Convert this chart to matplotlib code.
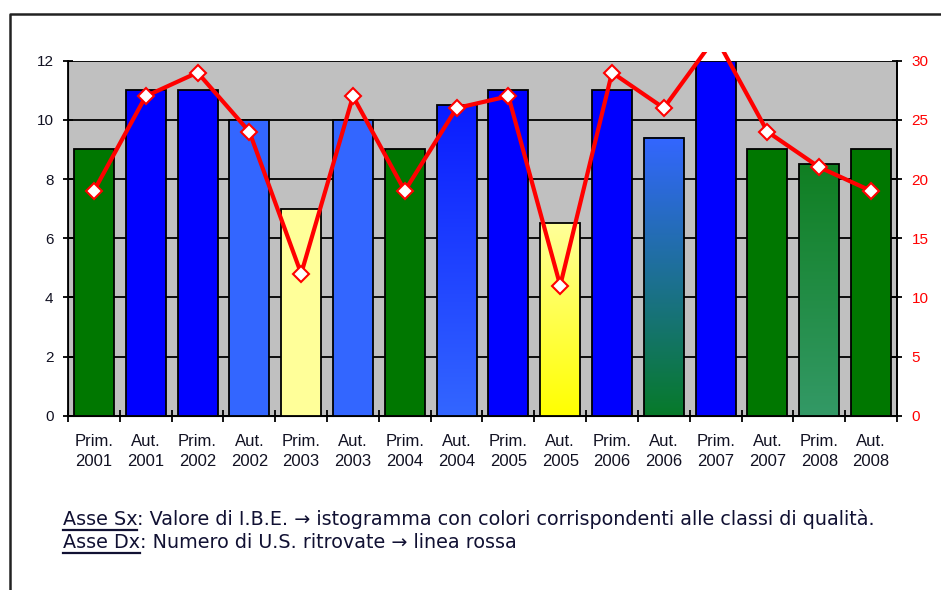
import numpy as np
import matplotlib
matplotlib.use("Agg")
import matplotlib.pyplot as plt
from matplotlib.colors import to_rgb
from matplotlib.patches import Rectangle
from matplotlib.lines import Line2D

# Data
seasons = ["Prim.", "Aut.", "Prim.", "Aut.", "Prim.", "Aut.", "Prim.", "Aut.",
           "Prim.", "Aut.", "Prim.", "Aut.", "Prim.", "Aut.", "Prim.", "Aut."]
years = ["2001", "2001", "2002", "2002", "2003", "2003", "2004", "2004",
         "2005", "2005", "2006", "2006", "2007", "2007", "2008", "2008"]
ibe_values = [9, 11, 11, 10, 7, 10, 9, 10.5, 11, 6.5, 11, 9.4, 12, 9, 8.5, 9]
us_counts = [19, 27, 29, 24, 12, 27, 19, 26, 27, 11, 29, 26, 32, 24, 21, 19]

# bar fill: (top colour, bottom colour) - quality class colours
bar_colors = [
    ("#007700", "#007700"),
    ("#0000ff", "#0000ff"),
    ("#0000ff", "#0000ff"),
    ("#3366ff", "#3366ff"),
    ("#ffff99", "#ffff99"),
    ("#3366ff", "#3366ff"),
    ("#007700", "#007700"),
    ("#0a1cff", "#3366ff"),
    ("#0000ff", "#0000ff"),
    ("#ffff99", "#ffff00"),
    ("#0000ff", "#0000ff"),
    ("#3366ff", "#077a2a"),
    ("#0000ff", "#0000ff"),
    ("#007700", "#007700"),
    ("#107f22", "#339966"),
    ("#007700", "#007700"),
]

tick_labels = [s + "\n" + y for s, y in zip(seasons, years)]
x = np.arange(len(ibe_values))
bar_w = 0.77

fig = plt.figure(figsize=(9.41, 5.90), dpi=100)
ax = fig.add_axes([0.0723, 0.2954, 0.8809, 0.6017])
ax.set_facecolor("#c0c0c0")

# bars (gradient ones drawn as images, then outlined)
for xi, h, (ctop, cbot) in zip(x, ibe_values, bar_colors):
    if ctop == cbot:
        ax.bar(xi, h, width=bar_w, color=ctop, edgecolor="black", linewidth=1.3, zorder=3)
    else:
        t = np.linspace(0, 1, 100)[:, None]
        grad = (1 - t) * np.array(to_rgb(ctop)) + t * np.array(to_rgb(cbot))
        ax.imshow(grad[:, None, :], extent=(xi - bar_w / 2, xi + bar_w / 2, 0, h),
                  aspect="auto", zorder=3, interpolation="bilinear")
        ax.bar(xi, h, width=bar_w, facecolor="none", edgecolor="black", linewidth=1.3, zorder=4)

ax.set_xlim(-0.5, len(x) - 0.5)
ax.set_ylim(0, 12)
ax.set_yticks(range(0, 13, 2))
ax.yaxis.grid(True, color="black", linewidth=1.3)
ax.set_axisbelow(True)

ax.set_xticks(np.arange(-0.5, len(x), 1))
ax.set_xticklabels([])
ax.set_xticks(x, minor=True)
ax.set_xticklabels(tick_labels, minor=True, fontsize=12, family="Liberation Sans",
                   color="#111122", linespacing=1.45)
ax.tick_params(axis="x", which="major", direction="inout", length=9, width=1.3)
ax.tick_params(axis="x", which="minor", length=0, pad=13)
ax.tick_params(axis="y", direction="inout", length=7, width=1.3, labelsize=11,
               labelcolor="#111122", pad=7)
for lbl in ax.get_yticklabels():
    lbl.set_family("Liberation Sans")

ax.spines["top"].set_visible(False)
for side in ["left", "bottom", "right"]:
    ax.spines[side].set_linewidth(1.3)

# right axis: red line
ax2 = ax.twinx()
ax2.set_ylim(0, 30)
ax2.set_yticks(range(0, 31, 5))
ax2.tick_params(axis="y", direction="inout", length=7, width=1.3, labelsize=11,
                labelcolor="#ff0000", pad=7)
for lbl in ax2.get_yticklabels():
    lbl.set_family("Liberation Sans")
ax2.spines["top"].set_visible(False)
ax2.spines["right"].set_linewidth(1.3)
line, = ax2.plot(x, us_counts, color="#ff0000", linewidth=3, marker="D",
                 markersize=8.5, markerfacecolor="white", markeredgecolor="#ff0000",
                 markeredgewidth=1.5, zorder=5)
clip = Rectangle((0, -0.05), 1, 1.075, transform=ax2.transAxes, visible=False)
ax2.add_patch(clip)
line.set_clip_path(clip)

# frame around the chart
fig.add_artist(Line2D([0.0106, 0.0106, 1.0], [0.0, 0.976, 0.976],
                      transform=fig.transFigure, color="#222222", linewidth=1.8))

# caption with underlined labels
captions = [
    ("Asse Sx", ": Valore di I.B.E. \u2192 istogramma con colori corrispondenti alle classi di qualit\u00e0.", 0.111),
    ("Asse Dx", ": Numero di U.S. ritrovate \u2192 linea rossa", 0.071),
]
renderer = fig.canvas.get_renderer()
for head, rest, yy in captions:
    t1 = fig.text(0.0665, yy, head, fontsize=13.8, family="DejaVu Sans", color="#111133",
                  va="baseline")
    bb = t1.get_window_extent(renderer).transformed(fig.transFigure.inverted())
    fig.text(bb.x1, yy, rest, fontsize=13.8, family="DejaVu Sans", color="#111133",
             va="baseline")
    fig.add_artist(Line2D([bb.x0, bb.x1], [yy - 0.009, yy - 0.009],
                          transform=fig.transFigure, color="#111133", linewidth=1.6))

fig.savefig("out.png", dpi=100)
